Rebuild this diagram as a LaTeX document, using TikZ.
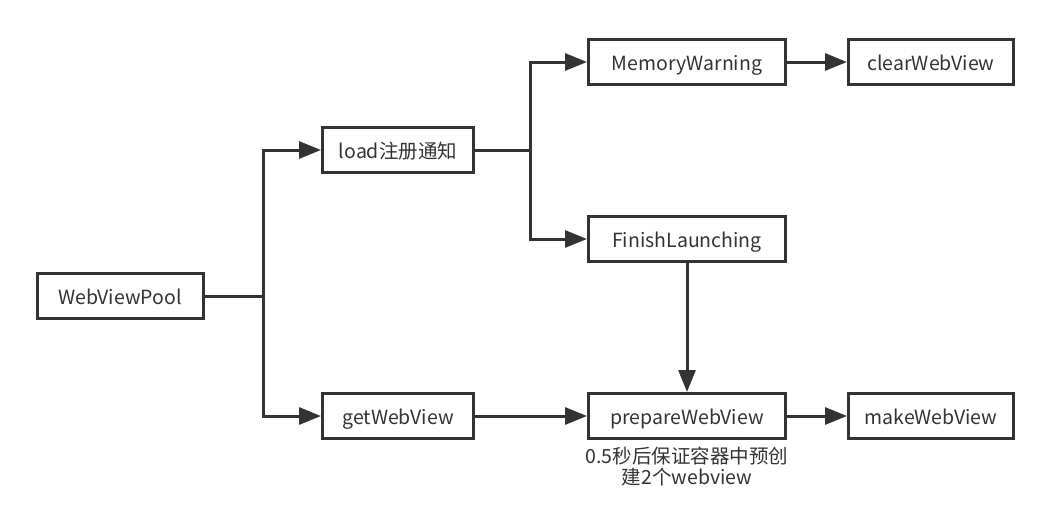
\documentclass[tikz,border=0pt]{standalone}
\usepackage{fontspec}
\setmainfont{Noto Sans CJK SC}
\usetikzlibrary{arrows.meta}
\definecolor{ink}{HTML}{333333}
\tikzset{
  box/.style={
    draw = ink,
    line width = 3pt,
    inner sep = 0pt,
    minimum height = 45pt,
    text height = 16pt,
    text depth = 0pt,
    text = ink
  },
  link/.style={
    draw = ink,
    line width = 3pt
  },
  arr/.style={
    link,
    -{Triangle[length=22pt,width=17pt]}
  },
  every picture/.style = {
    font=\fontsize{19.5}{21}\selectfont
  }
}
\begin{document}
\begin{tikzpicture}[x=1pt,y=-1pt]
        \useasboundingbox (0,0) rectangle (1051,528);
        \node[box,minimum width=166pt] (pool) at (120,296) {WebViewPool};
        \node[box,minimum width=151pt] (load) at (398,150) {load注册通知};
        \node[box,minimum width=151pt] (get) at (398,416) {getWebView};
        \foreach \n/\y/\t in {mem/62/MemoryWarning,finish/239/FinishLaunching,prepare/416/prepareWebView}{
                \node[box,minimum width=197pt] (\n) at (687,\y) {\t};
            }
        \node[box,minimum width=165pt] (clear) at (931,62) {clearWebView};
        \node[box,minimum width=165pt] (make) at (931,416) {makeWebView};
        \node[text=ink,align=center,anchor=north,inner sep=2pt,yshift=-5pt] (note) at (prepare.south) {0.5秒后保证容器中预创\\建2个webview};
        \coordinate (j1) at (263,296);
        \coordinate (j2) at (530,150);
        \draw[link] (pool) -- (j1);
        \draw[arr] (j1) |- (load);
        \draw[arr] (j1) |- (get);
        \draw[link] (load) -- (j2);
        \draw[arr] (j2) |- (mem);
        \draw[arr] (j2) |- (finish);
        \draw[arr] (mem) -- (clear);
        \draw[arr] (get) -- (prepare);
        \draw[arr] (finish) -- (prepare);
        \draw[arr] (prepare) -- (make);
    \end{tikzpicture}
\end{document}
